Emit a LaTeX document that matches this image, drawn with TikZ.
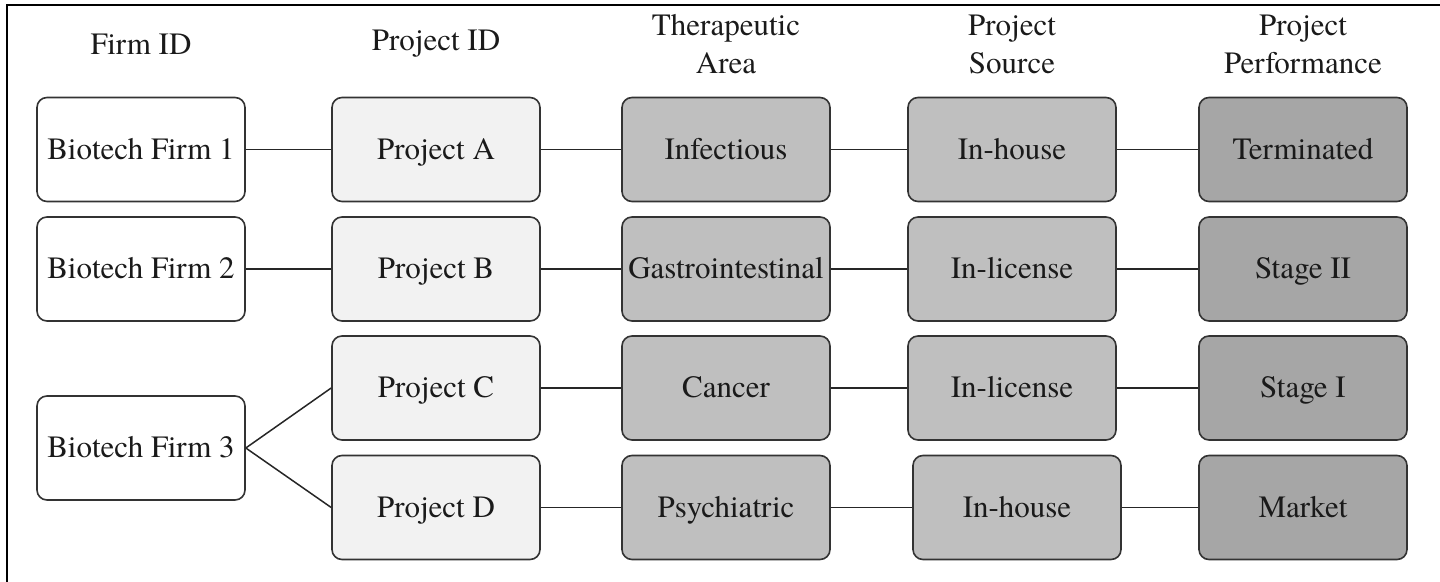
\documentclass[tikz,border=0pt]{standalone}
\usepackage{fontspec}
\setmainfont{texgyretermes-regular.otf}
\definecolor{boxline}{HTML}{333333}
\definecolor{projfill}{HTML}{F2F2F2}
\definecolor{areafill}{HTML}{BFBFBF}
\definecolor{perffill}{HTML}{A6A6A6}
\definecolor{inktext}{HTML}{1A1A1A}
\begin{document}
\begin{tikzpicture}[x=0.5pt,y=-0.5pt,
  box/.style={draw=boxline, line width=0.8pt, rounded corners=5pt,
    minimum width=104pt, minimum height=52pt, inner sep=0pt,
    text height=11.5pt, text depth=1.5pt,
    font=\fontsize{15.5}{18}\selectfont, text=inktext},
  firmbox/.style={box, fill=white},
  projbox/.style={box, fill=projfill},
  areabox/.style={box, fill=areafill},
  srcbox/.style={box, fill=areafill},
  perfbox/.style={box, fill=perffill},
  head/.style={align=center, inner sep=0pt, text=inktext,
    font=\fontsize{15.5}{19}\selectfont},
  link/.style={draw=black!85, line width=0.75pt},
  frame/.style={draw=black, line width=1pt}]
\useasboundingbox (0,0) rectangle (1440,582);

% outer frame (left and top edges)
\draw[frame] (7,582) -- (7,5) -- (1440,5);

% column headings
\node[head] (hFirm) at (141,44) {Firm ID};
\node[head] (hProj) at (436,44) {Project ID};
\node[head] (hArea) at (726,44) {Therapeutic\\Area};
\node[head] (hSrc)  at (1012,44) {Project\\Source};
\node[head] (hPerf) at (1303,44) {Project\\Performance};

% firms
\node[firmbox] (f1) at (141,149.5) {Biotech Firm 1};
\node[firmbox] (f2) at (141,269) {Biotech Firm 2};
\node[firmbox] (f3) at (141,448) {Biotech Firm 3};

% projects
\node[projbox] (pA) at (436,149.5) {Project A};
\node[projbox] (pB) at (436,269) {Project B};
\node[projbox] (pC) at (436,388) {Project C};
\node[projbox] (pD) at (436,507.5) {Project D};

% therapeutic areas
\node[areabox] (aA) at (726,149.5) {Infectious};
\node[areabox] (aB) at (726,269) {Gastrointestinal};
\node[areabox] (aC) at (726,388) {Cancer};
\node[areabox] (aD) at (726,507.5) {Psychiatric};

% project sources
\node[srcbox] (sA) at (1012,149.5) {In-house};
\node[srcbox] (sB) at (1012,269) {In-license};
\node[srcbox] (sC) at (1012,388) {In-license};
\node[srcbox] (sD) at (1017,507.5) {In-house};

% project performance
\node[perfbox] (rA) at (1303,149.5) {Terminated};
\node[perfbox] (rB) at (1303,269) {Stage II};
\node[perfbox] (rC) at (1303,388) {Stage I};
\node[perfbox] (rD) at (1303,507.5) {Market};

% connectors
\draw[link] (f1.east) -- (pA.west);
\draw[link] (f2.east) -- (pB.west);
\draw[link] (f3.east) -- (pC.west);
\draw[link] (f3.east) -- (pD.west);
\foreach \r in {A,B,C,D}{
  \draw[link] (p\r.east) -- (a\r.west);
  \draw[link] (a\r.east) -- (s\r.west);
  \draw[link] (s\r.east) -- (r\r.west);
}
\end{tikzpicture}
\end{document}
